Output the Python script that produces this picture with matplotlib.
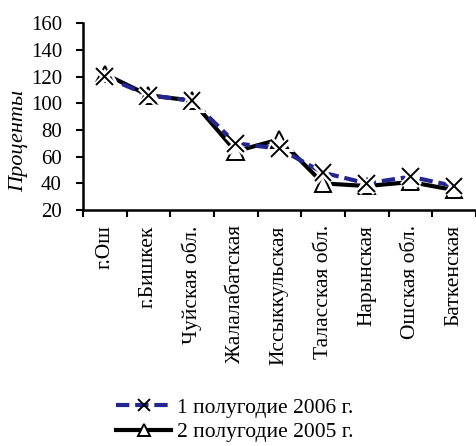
import matplotlib
matplotlib.use("Agg")
import matplotlib.pyplot as plt
import matplotlib.patheffects as pe
from matplotlib.lines import Line2D
import numpy as np

categories = ["г.Ош", "г.Бишкек", "Чуйская обл.", "Жалалабатская", "Иссыккульская",
              "Таласская обл.", "Нарынская", "Ошская обл.", "Баткенская"]
h1_2006 = [120, 106, 102, 70, 66, 48, 40, 45, 38]
h2_2005 = [122, 106, 102, 64, 73, 40, 38, 41, 35]
series_labels = ["1 полугодие 2006 г.", "2 полугодие 2005 г."]
y_ticks = [20, 40, 60, 80, 100, 120, 140, 160]

plt.rcParams["font.family"] = ["Liberation Serif", "DejaVu Serif"]

BLUE = "#252590"

fig = plt.figure(figsize=(4.76, 4.46), dpi=100)
ax = fig.add_axes([0.174, 0.529, 0.826, 0.419])

x = np.arange(len(categories))
halo = [pe.withStroke(linewidth=5, foreground="white")]

# connecting lines
ax.plot(x, h2_2005, color="black", lw=3, zorder=2)
ax.plot(x, h1_2006, color=BLUE, lw=3, ls=(0, (3.2, 1.4)), zorder=3)
# markers with a white halo so the lines break around them
ax.plot(x, h2_2005, ls="none", marker="^", ms=12, mew=1.4, mec="black",
        mfc="white", zorder=4, path_effects=halo)
ax.plot(x, h1_2006, ls="none", marker="x", ms=12, mew=1.4, mec="black",
        zorder=5, path_effects=halo)

ax.set_xlim(-0.5, len(categories) - 0.5)
ax.set_ylim(20, 160)
ax.set_yticks(y_ticks)
ax.tick_params(axis="y", labelsize=15, length=5, width=1.5, direction="out", pad=10)

ax.set_xticks(x)
ax.set_xticklabels(categories, rotation=90, fontsize=15.5)
ax.tick_params(axis="x", length=0, pad=11)
ax.set_xticks(np.arange(len(categories) + 1) - 0.5, minor=True)
ax.tick_params(axis="x", which="minor", length=5, width=1.5, direction="out")

for s in ["top", "right"]:
    ax.spines[s].set_visible(False)
for s in ["left", "bottom"]:
    ax.spines[s].set_linewidth(1.8)

ax.set_ylabel("Проценты", fontsize=16, style="italic")
ax.yaxis.set_label_coords(-0.14, 0.37)

handles = [
    Line2D([], [], color=BLUE, lw=3, ls=(0, (3.2, 1.4)), marker="x", ms=8,
           mew=1.4, mec="black"),
    Line2D([], [], color="black", lw=3, marker="^", ms=8, mew=1.4,
           mec="black", mfc="white"),
]
fig.legend(handles, series_labels, loc="upper left", bbox_to_anchor=(0.244, 0.108),
           frameon=False, fontsize=15.5, handlelength=2.55, handletextpad=0.3,
           labelspacing=0.2, borderpad=0, borderaxespad=0, numpoints=1)

fig.savefig("out.png", dpi=100)
